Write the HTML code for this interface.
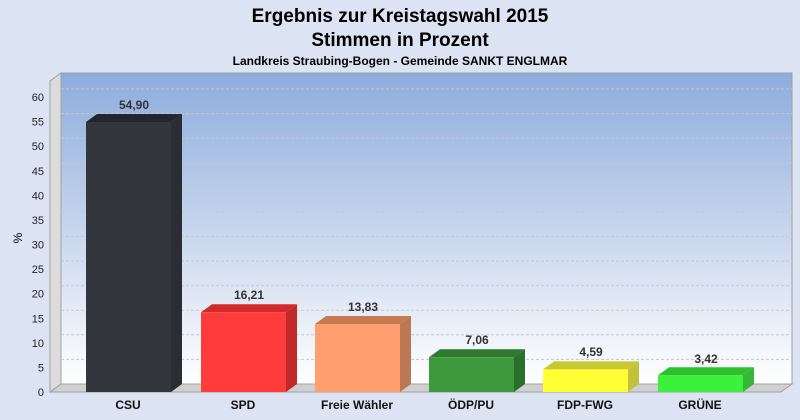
<!DOCTYPE html><html><head><meta charset="utf-8"><style>body{margin:0;background:#dce3f3}svg{display:block;font-family:"Liberation Sans",sans-serif}</style></head><body>
<svg width="800" height="420" xmlns="http://www.w3.org/2000/svg">
<defs>
<linearGradient id="bg" x1="0" y1="0" x2="0" y2="1"><stop offset="0" stop-color="#8eacdc"/><stop offset="1" stop-color="#ffffff"/></linearGradient>
</defs>
<rect width="800" height="420" fill="#dce3f3"/>
<text x="400" y="22" text-anchor="middle" font-size="19" font-weight="bold">Ergebnis zur Kreistagswahl 2015</text>
<text x="400" y="46" text-anchor="middle" font-size="19" font-weight="bold">Stimmen in Prozent</text>
<text x="400" y="65" text-anchor="middle" font-size="12" font-weight="bold">Landkreis Straubing-Bogen - Gemeinde SANKT ENGLMAR</text>
<rect x="61" y="73" width="731" height="311" fill="url(#bg)" stroke="#a0a0a0"/>
<polygon points="50,81 61,73 61,384 50,392" fill="#dcdcdc" stroke="#a0a0a0"/>
<polygon points="50,392 61,384 792,384 781,392" fill="#d0d0d0" stroke="#a0a0a0"/>
<g stroke="#c8c8c8" stroke-dasharray="3,2" fill="none">
<path d="M61,359.4H792M61,334.8H792M61,310.3H792M61,285.7H792M61,261.1H792M61,236.5H792M61,212H792M61,187.4H792M61,162.8H792M61,138.2H792M61,113.6H792M61,89H792"/>
</g>
<g font-size="11" text-anchor="end" fill="#222">
<text x="44" y="396">0</text><text x="44" y="371.4">5</text><text x="44" y="346.8">10</text><text x="44" y="322.3">15</text><text x="44" y="297.7">20</text><text x="44" y="273.1">25</text><text x="44" y="248.5">30</text><text x="44" y="224">35</text><text x="44" y="199.4">40</text><text x="44" y="174.8">45</text><text x="44" y="150.2">50</text><text x="44" y="125.6">55</text><text x="44" y="101">60</text>
</g>
<text x="22" y="238" font-size="12" transform="rotate(-90 22 238)" text-anchor="middle">%</text>
<g id="bars"></g>
<!-- bars: front x, width 85, depth 11/-8 -->
<g>
<polygon points="86,122 97,114 182,114 171,122" fill="#22262e"/><polygon points="171,122 182,114 182,384 171,392" fill="#2a2d33"/><rect x="86" y="122" width="85" height="270" fill="#33363d"/>
<polygon points="201,312.3 212,304.3 297,304.3 286,312.3" fill="#d02a2a"/><polygon points="286,312.3 297,304.3 297,384 286,392" fill="#c22a2a"/><rect x="201" y="312.3" width="85" height="79.7" fill="#ff3b3b"/>
<polygon points="315,324 326,316 411,316 400,324" fill="#c77a52"/><polygon points="400,324 411,316 411,384 400,392" fill="#bc7852"/><rect x="315" y="324" width="85" height="68" fill="#ff9e6e"/>
<polygon points="429,357.3 440,349.3 525,349.3 514,357.3" fill="#2e7a2e"/><polygon points="514,357.3 525,349.3 525,384 514,392" fill="#2c6e2c"/><rect x="429" y="357.3" width="85" height="34.7" fill="#3c9a3c"/>
<polygon points="543,369.4 554,361.4 639,361.4 628,369.4" fill="#c8c830"/><polygon points="628,369.4 639,361.4 639,384 628,392" fill="#c2c23a"/><rect x="543" y="369.4" width="85" height="22.6" fill="#ffff33"/>
<polygon points="658,375.2 669,367.2 754,367.2 743,375.2" fill="#2fc02f"/><polygon points="743,375.2 754,367.2 754,384 743,392" fill="#36b836"/><rect x="658" y="375.2" width="85" height="16.8" fill="#3cf03c"/>
</g>
<g font-size="12" font-weight="bold" text-anchor="middle" fill="#333">
<text x="134" y="109">54,90</text><text x="249" y="299">16,21</text><text x="363" y="311">13,83</text><text x="477" y="344">7,06</text><text x="591" y="356">4,59</text><text x="706" y="363">3,42</text>
</g>
<g font-size="12" font-weight="bold" text-anchor="middle" fill="#111">
<text x="128" y="409">CSU</text><text x="243" y="409">SPD</text><text x="357" y="409">Freie Wähler</text><text x="471" y="409">ÖDP/PU</text><text x="585" y="409">FDP-FWG</text><text x="700" y="409">GRÜNE</text>
</g>
</svg></body></html>
